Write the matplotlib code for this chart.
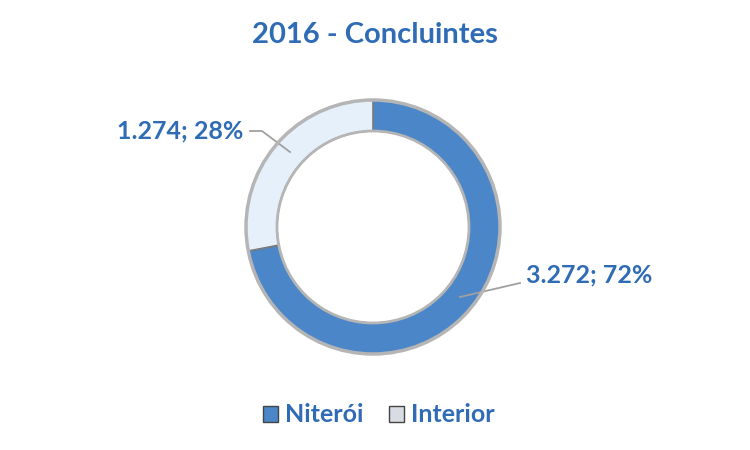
import matplotlib.pyplot as plt
from matplotlib.patches import Patch, Circle

# dados
categorias = ['Niterói', 'Interior']
valores = [3272, 1274]
percentuais = [72, 28]
cores = ['#4A86C8', '#E6F0FA']
azul = '#2F6CB5'

plt.rcParams['font.family'] = ['Lato', 'DejaVu Sans']

fig = plt.figure(figsize=(7.5, 4.5), dpi=100)
ax = fig.add_axes([0, 0, 1, 1])

cx, cy = 3.73, 4.5 - 2.27
wedges, _ = ax.pie(valores, colors=cores, startangle=90, counterclock=False,
                   center=(cx, cy), radius=1.27, frame=True,
                   wedgeprops=dict(width=0.31, edgecolor='#7a7a7a', linewidth=1.2))
# contorno cinza para imitar o bisel
ax.add_patch(Circle((cx, cy), 1.27, fill=False, edgecolor='#b5b5b5', lw=2.5, zorder=3))
ax.add_patch(Circle((cx, cy), 0.96, fill=False, edgecolor='#b5b5b5', lw=2.0, zorder=3))
ax.set_xlim(0, 7.5)
ax.set_ylim(0, 4.5)
ax.set_aspect('equal')
ax.axis('off')

# rotulos com linhas de chamada
def fmt(v, p):
    return '{:,}'.format(v).replace(',', '.') + '; ' + str(p) + '%'

ax.plot([2.50, 2.62, 2.90], [4.5 - 1.31, 4.5 - 1.31, 4.5 - 1.52], color='#a0a0a0', lw=1.3)
ax.text(2.43, 4.5 - 1.31, fmt(valores[1], percentuais[1]), ha='right', va='center',
        fontsize=18, fontweight='bold', color=azul)
ax.plot([4.60, 5.20], [4.5 - 2.97, 4.5 - 2.83], color='#a0a0a0', lw=1.3)
ax.text(5.26, 4.5 - 2.75, fmt(valores[0], percentuais[0]), ha='left', va='center',
        fontsize=18, fontweight='bold', color=azul)

ax.text(3.75, 4.5 - 0.35, '2016 - Concluintes', ha='center', va='center',
        fontsize=21, fontweight='bold', color=azul)

handles = [Patch(facecolor=cores[0], edgecolor='#444444'),
           Patch(facecolor='#d8dde3', edgecolor='#444444')]
leg = fig.legend(handles, categorias, loc='center', bbox_to_anchor=(0.505, 1 - 415 / 450),
                 ncol=2, frameon=False, fontsize=18, handlelength=0.6, handleheight=0.6,
                 handletextpad=0.3, columnspacing=1.0)
for t in leg.get_texts():
    t.set_color(azul)
    t.set_fontweight('bold')

fig.savefig('out.png', dpi=100)
